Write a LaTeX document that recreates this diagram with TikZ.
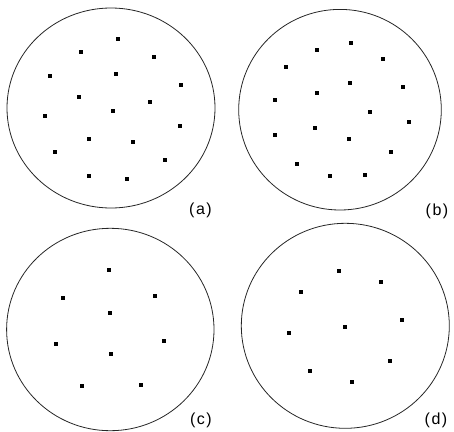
\documentclass[tikz,border=0pt]{standalone}
\usepackage{fontspec}
\setmainfont{Liberation Sans}
\newcommand{\plab}[1]{(\kern1.5pt#1\kern1.5pt)}
\begin{document}
\begin{tikzpicture}[x=1pt,y=-1pt,
  dish/.style={draw=black!85,line width=0.8pt},
  dot/.style={fill=black,minimum size=3.8pt,inner sep=0pt,draw=none,rectangle},
  lab/.style={font=\fontsize{16}{18}\selectfont,inner sep=0pt}]
\useasboundingbox (0,0) rectangle (454,431);
% circle a
\draw[dish] (111,108) ellipse [x radius=104, y radius=100];
\foreach \x/\y [count=\i] in {118.3/39.3,80.7/52,154/57,50/76,116/74.3,181/85.3,79/97,149.7/101.7,113.3/111.3,44.7/116.3,180.3/125.7,89/138.7,133/142,55.3/152.3,164.7/160,89.3/176.3,127.3/178.7}
  \node[dot] (a\i) at (\x,\y) {};
\node[lab] (la) at (200.5,210.5) {\plab{a}};
% circle b
\draw[dish] (340,109.7) ellipse [x radius=101.3, y radius=100.3];
\foreach \x/\y [count=\i] in {351/42.7,316.7/50,383/59,286/67,350/82.7,403/87,316.7/93,274.7/100.3,370/111.7,409/122,315.3/127.7,275.3/134.7,348.7/138.7,391/152,297/163.7,329.7/175.7,365.3/175}
  \node[dot] (b\i) at (\x,\y) {};
\node[lab] (lb) at (437,211) {\plab{b}};
% circle c
\draw[dish] (110.3,329.5) ellipse [x radius=103.7, y radius=101.2];
\foreach \x/\y [count=\i] in {108.7/269.7,63.3/297.7,155.3/295.7,110/312.7,56.3/343.7,164/341.3,110.7/353.7,81.7/386.3,141/385}
  \node[dot] (c\i) at (\x,\y) {};
\node[lab] (lc) at (201,420) {\plab{c}};
% circle d
\draw[dish] (345.3,325.8) ellipse [x radius=104, y radius=102.5];
\foreach \x/\y [count=\i] in {338.7/271,380.7/282,300.7/291.7,401.7/319.7,345.3/326.7,289/333,390/361,310/370.7,352/382}
  \node[dot] (d\i) at (\x,\y) {};
\node[lab] (ld) at (436,420) {\plab{d}};
\end{tikzpicture}
\end{document}
